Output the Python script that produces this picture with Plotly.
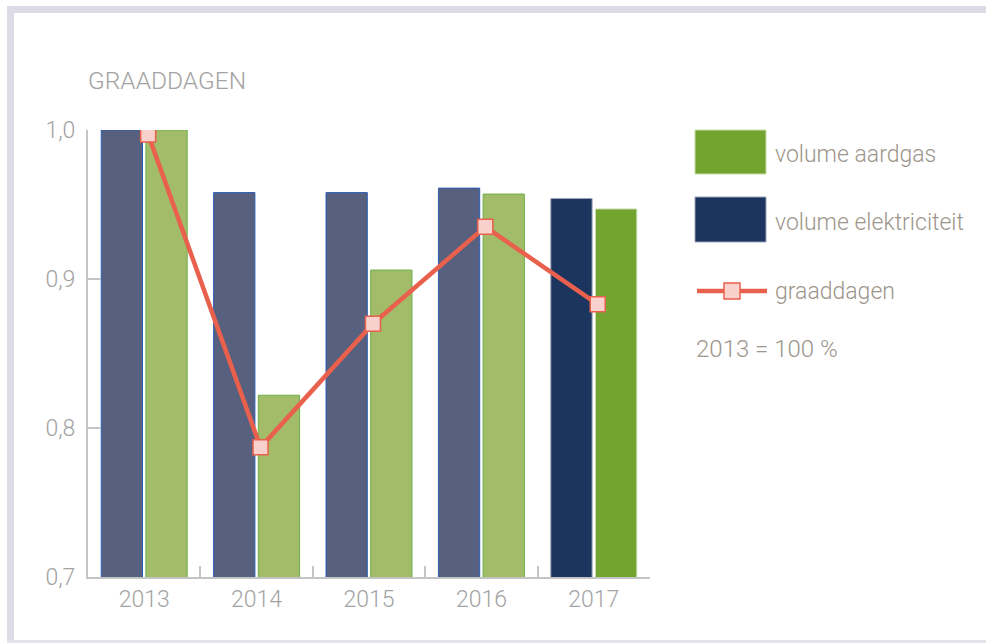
import plotly.graph_objects as go

years = ["2013", "2014", "2015", "2016", "2017"]
elektriciteit = [1.000, 0.958, 0.958, 0.961, 0.954]
aardgas = [1.000, 0.822, 0.906, 0.957, 0.947]
graaddagen = [0.997, 0.787, 0.870, 0.935, 0.883]
y_ticks = [0.7, 0.8, 0.9, 1.0]

W, H = 986, 643
L, R, T, B = 88, 650, 130, 577  # plot area in pixels


def px(x):
    return (x - L) / (R - L)


def py(y):
    return (B - y) / (B - T)


FONT = "Roboto"
TXT_GRAY = "#a3a3a3"
LEG_GRAY = "#9d968c"

elek_fill = ["#57607f"] * 4 + ["#1c355e"]
elek_line = ["#2b5fb4"] * 4 + ["#9aa3b8"]
gas_fill = ["#a3bc69"] * 4 + ["#74a430"]
gas_line = ["#6cb048"] * 4 + ["#c8dcae"]

fig = go.Figure()
fig.add_trace(go.Bar(x=years, y=elektriciteit, name="volume elektriciteit",
                     marker=dict(color=elek_fill, line=dict(color=elek_line, width=1)),
                     showlegend=False))
fig.add_trace(go.Bar(x=years, y=aardgas, name="volume aardgas",
                     marker=dict(color=gas_fill, line=dict(color=gas_line, width=1)),
                     showlegend=False))
fig.add_trace(go.Scatter(x=years, y=graaddagen, name="graaddagen", xaxis="x2",
                         mode="lines+markers",
                         line=dict(color="#e9604d", width=4.5),
                         marker=dict(symbol="square", size=15, color="#f8d0cc",
                                     line=dict(color="#e9604d", width=1.5)),
                         showlegend=False))

shapes = []
frame_col = "#dcdbe6"
shapes.append(dict(type="rect", xref="paper", yref="paper",
                   x0=px(7), x1=px(986), y0=py(6), y1=py(13),
                   fillcolor=frame_col, line=dict(width=0), layer="below"))
shapes.append(dict(type="rect", xref="paper", yref="paper",
                   x0=px(7), x1=px(14), y0=py(6), y1=py(643),
                   fillcolor=frame_col, line=dict(width=0), layer="below"))
shapes.append(dict(type="rect", xref="paper", yref="paper",
                   x0=px(7), x1=px(986), y0=py(640), y1=py(643),
                   fillcolor="#e4e3ec", line=dict(width=0), layer="below"))
# legend keys
shapes.append(dict(type="rect", xref="paper", yref="paper",
                   x0=px(695), x1=px(766), y0=py(130), y1=py(174),
                   fillcolor="#74a430", line=dict(color="#c8dcae", width=1)))
shapes.append(dict(type="rect", xref="paper", yref="paper",
                   x0=px(695), x1=px(766), y0=py(197), y1=py(242),
                   fillcolor="#1c355e", line=dict(color="#9aa3b8", width=1)))
shapes.append(dict(type="line", xref="paper", yref="paper",
                   x0=px(697), x1=px(767), y0=py(291), y1=py(291),
                   line=dict(color="#e9604d", width=4.5)))
shapes.append(dict(type="rect", xref="paper", yref="paper",
                   x0=px(724), x1=px(740), y0=py(283), y1=py(299),
                   fillcolor="#f8d0cc", line=dict(color="#e9604d", width=1.5)))

LEG_SIZE = 23
annotations = [
    dict(text="GRAADDAGEN", xref="paper", yref="paper", x=px(86), y=py(80),
         xanchor="left", yanchor="middle", showarrow=False,
         font=dict(family=FONT, size=24.5, color=TXT_GRAY, weight=300)),
    dict(text="volume aardgas", xref="paper", yref="paper", x=px(773), y=py(155),
         xanchor="left", yanchor="middle", showarrow=False,
         font=dict(family=FONT, size=LEG_SIZE, color=LEG_GRAY, weight=300)),
    dict(text="volume elektriciteit", xref="paper", yref="paper", x=px(773), y=py(222),
         xanchor="left", yanchor="middle", showarrow=False,
         font=dict(family=FONT, size=LEG_SIZE, color=LEG_GRAY, weight=300)),
    dict(text="graaddagen", xref="paper", yref="paper", x=px(773), y=py(291),
         xanchor="left", yanchor="middle", showarrow=False,
         font=dict(family=FONT, size=LEG_SIZE, color=LEG_GRAY, weight=300)),
    dict(text="2013 = 100 %", xref="paper", yref="paper", x=px(694), y=py(349),
         xanchor="left", yanchor="middle", showarrow=False,
         font=dict(family=FONT, size=24, color=LEG_GRAY, weight=300)),
]

fig.update_layout(
    width=W, height=H,
    margin=dict(l=L, r=W - R, t=T, b=H - B, pad=0),
    paper_bgcolor="white", plot_bgcolor="white",
    separators=", ",
    barmode="group", bargap=0.205, bargroupgap=0.076,
    font=dict(family=FONT, color=TXT_GRAY, weight=300),
    xaxis=dict(type="category", tickson="boundaries", ticks="inside", ticklen=11,
               tickwidth=2, tickcolor="#c4c4c4", showline=True, linecolor="#c4c4c4",
               linewidth=2, showgrid=False, zeroline=False,
               tickfont=dict(family=FONT, size=23, color=TXT_GRAY, weight=300)),
    xaxis2=dict(overlaying="x", range=[-0.535, 4.465], visible=False),
    yaxis=dict(range=[0.7, 1.0], tickvals=y_ticks, tickformat=".1f",
               ticks="inside", ticklen=13, tickwidth=2, tickcolor="#c4c4c4",
               showline=True, linecolor="#c4c4c4", linewidth=2,
               showgrid=False, zeroline=False, ticklabelstandoff=6,
               tickfont=dict(family=FONT, size=23, color=TXT_GRAY, weight=300)),
    shapes=shapes,
    annotations=annotations,
)

fig.write_html(
    "out.html",
    config={"displayModeBar": False},
    post_script="document.body.style.margin='0';document.body.style.overflow='hidden';",
)
